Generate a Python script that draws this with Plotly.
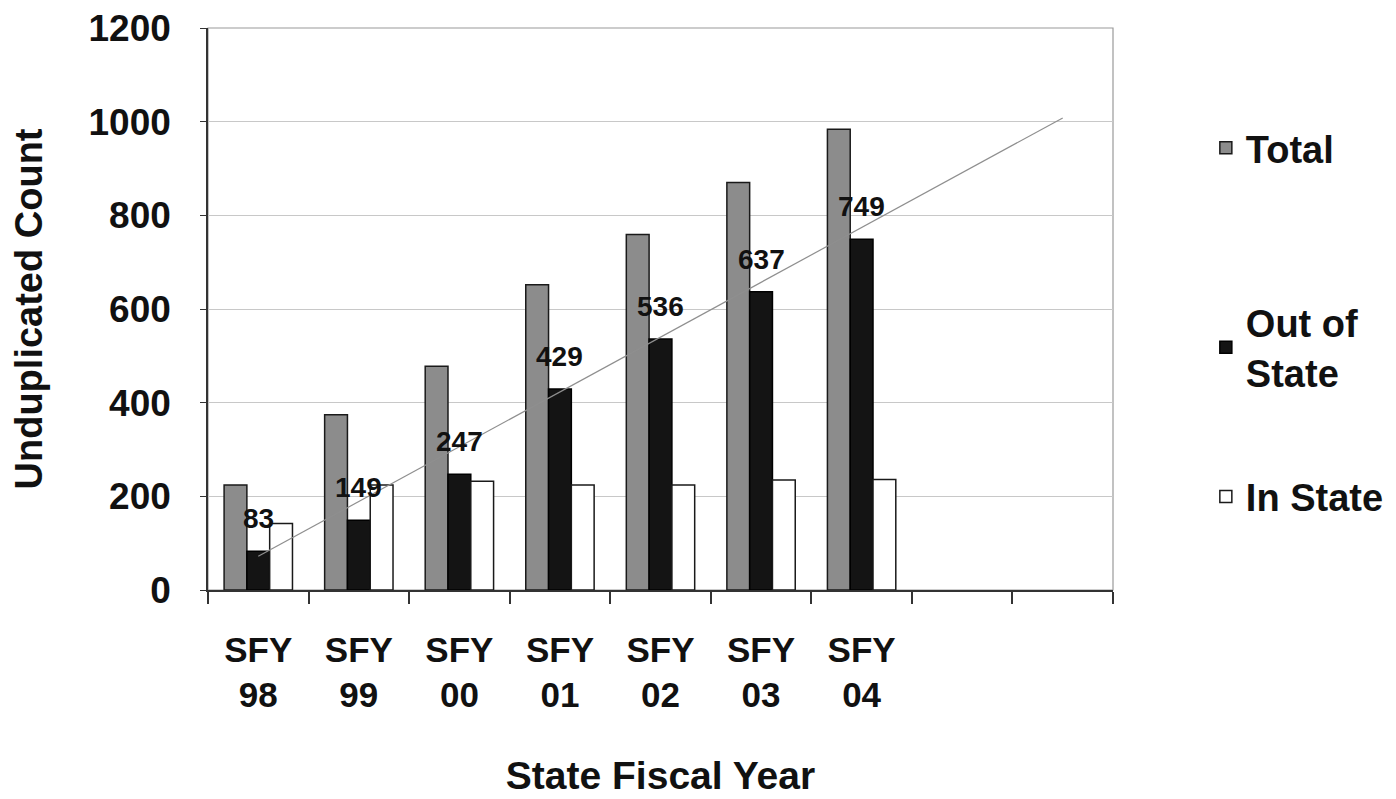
import plotly.graph_objects as go

# ===== DATOS =====
years = ["SFY<br>98", "SFY<br>99", "SFY<br>00", "SFY<br>01",
         "SFY<br>02", "SFY<br>03", "SFY<br>04", " ", "  "]
total = [224, 374, 478, 652, 759, 870, 984]
out_of_state = [83, 149, 247, 429, 536, 637, 749]
in_state = [142, 224, 232, 224, 224, 235, 236]

# tendencia lineal (Excel) sobre Out of State, extendida 2 periodos
trend_x = [years[0], years[8]]
trend_y = [72, 1008]

FONT = "Arial, Liberation Sans, sans-serif"
INK = "#111111"


def bold(size):
    return dict(family=FONT, size=size, color=INK, weight="bold")


fig = go.Figure()

fig.add_trace(go.Bar(
    x=years[:7], y=total, name="Total",
    marker=dict(color="#8c8c8c", line=dict(color="#1a1a1a", width=1.5)),
    legend="legend",
))
fig.add_trace(go.Bar(
    x=years[:7], y=out_of_state, name="Out of<br>State",
    marker=dict(color="#141414", line=dict(color="#000000", width=1.5)),
    legend="legend2",
))
fig.add_trace(go.Bar(
    x=years[:7], y=in_state, name="In State",
    marker=dict(color="#ffffff", line=dict(color="#1a1a1a", width=1.5)),
    legend="legend3",
))
fig.add_trace(go.Scatter(
    x=trend_x, y=trend_y, mode="lines",
    line=dict(color="#8f8f8f", width=1.2),
    showlegend=False, hoverinfo="skip",
))

# etiquetas de datos sobre las barras Out of State
for yr, val in zip(years, out_of_state):
    fig.add_annotation(
        x=yr, y=val, text=str(val), showarrow=False,
        yanchor="bottom", yshift=15, font=bold(28),
    )

# leyendas separadas, posicionadas respecto al contenedor (sin empujar márgenes)
legend_common = dict(
    xref="container", yref="container",
    xanchor="left", yanchor="middle", itemwidth=30,
    font=bold(38), bgcolor="rgba(0,0,0,0)",
)

fig.update_layout(
    width=1388, height=791,
    paper_bgcolor="white", plot_bgcolor="white",
    margin=dict(l=200, r=283, t=20, b=209, autoexpand=False),
    font=bold(30),
    barmode="group", bargap=0.32, bargroupgap=0,
    showlegend=True,
    legend=dict(x=0.863, y=0.823, **legend_common),
    legend2=dict(x=0.863, y=0.571, **legend_common),
    legend3=dict(x=0.863, y=0.382, **legend_common),
    xaxis=dict(
        type="category", categoryorder="array", categoryarray=years,
        tickson="boundaries", ticks="outside", ticklen=12, tickwidth=1.5,
        tickcolor="#333333",
        showline=True, linecolor="#333333", linewidth=1.5,
        showgrid=False, zeroline=False, automargin=False,
        ticklabelstandoff=28,
        tickfont=bold(35),
        title=dict(text="State Fiscal Year", standoff=48, font=bold(39)),
        range=[-0.5, 8.5],
    ),
    yaxis=dict(
        range=[0, 1200], dtick=200,
        ticks="outside", ticklen=6, tickcolor="#333333",
        showline=True, linecolor="#333333", linewidth=1.5,
        showgrid=True, gridcolor="#c8c8c8", gridwidth=1,
        zeroline=False, automargin=False,
        ticklabelstandoff=22,
        ticklabeloverflow="allow",
        tickfont=bold(37),
        title=dict(text="Unduplicated Count", standoff=40, font=bold(38)),
    ),
    shapes=[dict(type="rect", xref="paper", yref="paper", x0=0, x1=1, y0=0, y1=1,
                 line=dict(color="#9a9a9a", width=1.2), layer="below")],
)

fig.write_html("out.html")
